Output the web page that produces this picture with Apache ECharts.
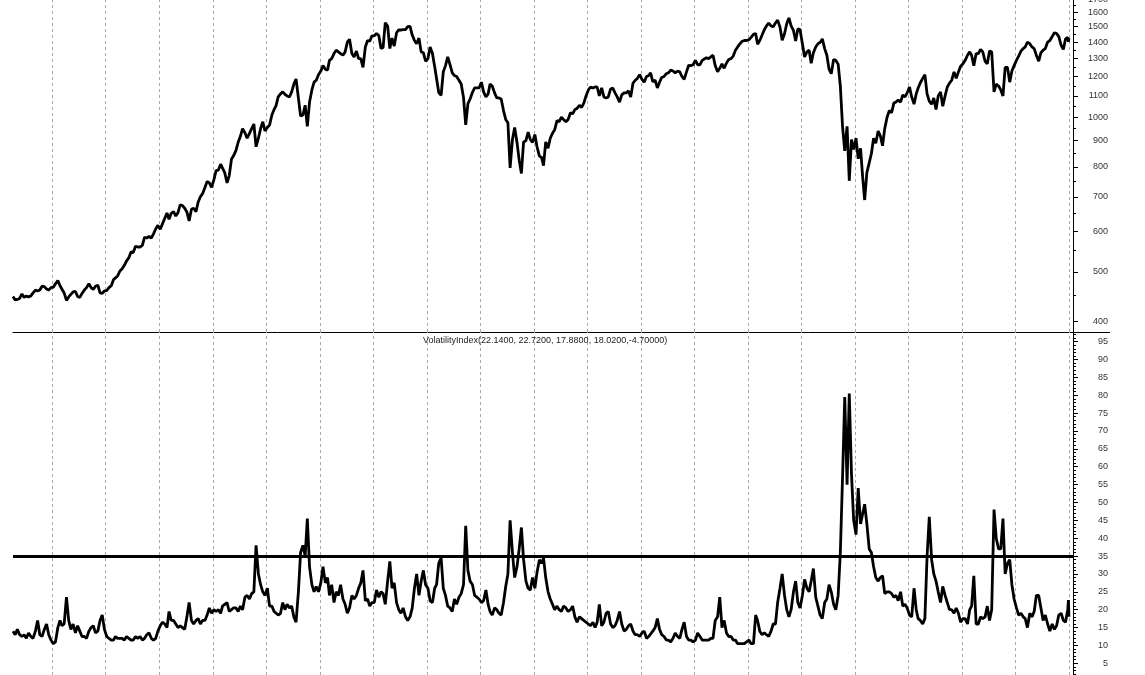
<!DOCTYPE html>
<html><head><meta charset="utf-8">
<script src="https://cdn.jsdelivr.net/npm/echarts@6/dist/echarts.min.js"></script>
<style>html,body{margin:0;padding:0;background:#fff}#c{width:1145px;height:675px}</style>
</head><body><div id="c"></div>
<script>
// Semi-monthly readings (around the 8th and 23rd of each month), Apr 1993 .. Dec 2012
const spx = [
 448,441, 442,444, 453,446, 449,447, 449,455, 461,459, 461,469, 468,463, 461,466,
 467,474, 481,470, 466,455, 440,447, 452,457, 458,448, 446,454, 461,466, 474,466, 462,469, 471,455, 454,459,
 460,466, 470,483, 487,491, 502,507, 515,525, 533,547, 545,561, 559,559, 563,584, 582,586, 582,593, 606,616,
 605,620, 636,651, 633,650, 655,642, 652,675, 673,665, 654,628, 662,665, 655,684, 700,710, 730,750, 745,730,
 755,787, 789,810, 805,780, 745,770, 828,842, 862,894, 918,950, 933,910, 930,950, 970,876, 910,950, 980,940,
 955,965, 1010,1035, 1052,1095, 1110,1120, 1108,1100, 1095,1120, 1160,1187, 1090,1005, 1010,1055, 960,1070, 1130,1170, 1180,1210,
 1230,1260, 1240,1235, 1290,1300, 1330,1350, 1340,1330, 1320,1340, 1400,1418, 1330,1310, 1345,1300, 1300,1250, 1370,1410, 1405,1440,
 1441,1455, 1441,1360, 1366,1527, 1505,1360, 1425,1375, 1460,1479, 1478,1480, 1480,1500, 1502,1445, 1410,1390, 1425,1340, 1335,1285,
 1300,1370, 1330,1255, 1264,1117, 1103,1225, 1260,1310, 1265,1220, 1205,1200, 1180,1160, 1092,966, 1062,1085, 1118,1140, 1140,1140,
 1170,1120, 1095,1110, 1160,1150, 1115,1090, 1090,1085, 1030,990, 975,797, 905,955, 893,825, 777,895, 900,935, 905,893,
 925,875, 840,835, 805,895, 870,910, 930,945, 985,980, 1000,990, 980,990, 1020,1015, 1035,1040, 1055,1045, 1065,1100,
 1130,1145, 1140,1145, 1145,1100, 1140,1095, 1090,1095, 1135,1140, 1115,1095, 1070,1105, 1115,1115, 1125,1095, 1165,1180, 1190,1210,
 1185,1170, 1200,1205, 1220,1172, 1180,1140, 1170,1195, 1200,1215, 1220,1235, 1230,1220, 1230,1225, 1200,1185, 1225,1262, 1260,1265,
 1290,1265, 1265,1290, 1280,1305, 1300,1310, 1320,1260, 1226,1245, 1270,1245, 1275,1295, 1300,1315, 1350,1370, 1390,1405, 1410,1410,
 1415,1430, 1450,1455, 1387,1410, 1445,1480, 1505,1525, 1505,1500, 1525,1545, 1497,1411, 1453,1520, 1560,1505, 1475,1407, 1485,1480,
 1390,1310, 1340,1350, 1273,1335, 1370,1390, 1398,1420, 1360,1320, 1240,1215, 1295,1290, 1268,1150, 960,860, 960,752, 905,865,
 910,830, 870,760, 690,780, 815,850, 910,890, 940,920, 880,950, 1000,1030, 1020,1065, 1070,1080, 1070,1105, 1095,1115,
 1145,1095, 1060,1110, 1140,1167, 1190,1210, 1110,1075, 1060,1090, 1035,1100, 1120,1050, 1100,1145, 1165,1180, 1225,1190, 1225,1257,
 1270,1290, 1320,1340, 1320,1260, 1330,1330, 1355,1340, 1285,1270, 1345,1340, 1120,1160, 1150,1130, 1100,1250, 1250,1170, 1230,1260,
 1290,1315, 1345,1360, 1370,1400, 1390,1370, 1360,1320, 1285,1335, 1350,1360, 1400,1410, 1435,1460, 1455,1435, 1380,1355, 1420,1430,
 1402,1426
];
const vix = [
 14,13, 14.5,13, 12.5,13, 12,13.5, 12.5,12, 14,17, 13,12.5, 14.5,16, 13,11.5,
 10.5,11, 15,17, 15.5,16, 23.5,17, 14.5,16, 13.5,15.5, 14,12.5, 12.5,12, 14,15, 15.5,13.5, 14,17, 18.5,14.5,
 12.5,12, 11.5,11.5, 12.5,12, 12,12, 11.5,12.5, 12,11.5, 11.5,12.5, 12,12.5, 11.5,12, 13,13.5, 12,11.5, 12,14,
 15.5,16.5, 16,15, 19.5,17, 17,16, 15,15.5, 15,14.5, 18,22, 17,16, 17,17.5, 16,17, 17,18.5, 20.5,19,
 20,19.5, 20,19, 21,21.5, 22,19.5, 20,20.5, 20.5,19.5, 21,20, 23.5,24, 23,24.5, 25,38, 30,27, 25,24,
 26,21, 21,19.5, 20,18.5, 19,22, 20,21.5, 20.5,21, 18,16.5, 25,36, 38,35, 45.5,32, 27,25, 26.5,25,
 27.5,32, 27.5,29, 24,27, 22,25, 24,27, 23,21.5, 19,20.5, 24,23, 24,26, 27.5,31, 22.5,23, 21,22,
 22,25.5, 23.5,25, 24.5,21.5, 28,33.5, 26,27.5, 22,20, 19,20.5, 18,17, 18,20.5, 26,30, 24,28, 31,27,
 26,22.5, 22,26, 27,33, 34.5,26, 24,21, 20.5,19.5, 23,21.5, 23.5,24.5, 27,43.5, 31,28, 27,24, 23.5,23,
 22,22.5, 25.5,21.5, 19.5,18.5, 20.5,20, 19,18.5, 22,26.5, 30,45, 36,29, 32,37, 43,34, 28,26, 25.5,29,
 26,30.5, 34,33, 34.5,29, 25,23, 21.5,20, 21,20, 19.5,21, 20.5,19.5, 20,21, 18,16.5, 18,17.5, 17,16.5,
 16,15.5, 16.5,15, 16.5,21.5, 15.5,16.5, 19,19.5, 16,15, 15.5,17, 19.5,16, 14,14.5, 15.5,16, 14,13, 13,12.5,
 13.5,14, 12,12.5, 12.5,14, 15,17.5, 14.5,13, 12.5,11.5, 11.5,11, 12,13.5, 12.5,12, 14.5,16.5, 12.5,11.5, 11.5,11,
 11.5,13.5, 12.5,11.5, 12,11.5, 11.5,12, 12,17, 18,23.5, 15,17, 13.5,12.5, 12.5,11.5, 11.5,10.5, 10.5,10.5, 10.5,11,
 11.5,10.5, 10.5,18.5, 17,14, 13,13.5, 13,12.5, 14,16, 16,22, 26,30, 24,20, 18,20, 25,28, 22,20.5,
 24,28.5, 26,25, 28,31.5, 23.5,21, 18.5,17.5, 22,23, 27,25, 21.5,20, 24,36, 57,79.5, 55,80.5, 58,45,
 41,54, 44,47, 49.5,44, 37,36, 32,29, 28,29, 29.5,24.5, 25,25, 24.5,23.5, 24,22.5, 25,21, 21.5,20.5,
 18.5,18, 26,20, 17.5,17, 16,17.5, 35,46, 34,30, 28,25, 22,26.5, 24,22, 20,20, 19,20.5, 19,16.5,
 17.5,17.5, 16,20, 21,29.5, 16,16, 18,17.5, 18,21, 17,20, 48,40, 37,37, 45.5,30, 33,34, 27,23,
 20.5,18.5, 19,18, 17.5,15, 19,18, 19.5,24, 24,20.5, 17,18.5, 16,14, 16,14.5, 15.5,18.5, 19,17, 16.5,20,
 22.72,18.02
];
const tailDates = ['2012-12-28', '2012-12-31'];
const gridYears = ['1994','1995','1996','1997','1998','1999','2000','2001','2002','2003','2004','2005','2006','2007','2008','2009','2010','2011','2012','2013'];
const spxLabels = [400,500,600,700,800,900,1000,1100,1200,1300,1400,1500,1600];
const spxTopLabel = '1700';
const spxMinorTicks = [450,550,650,750,850,950,1050,1150,1250,1350,1450,1550,1650];
const vixLabels = [5,10,15,20,25,30,35,40,45,50,55,60,65,70,75,80,85,90,95];
const threshold = 35;
const vixTitle = 'VolatilityIndex(22.1400, 22.7200, 17.8800, 18.0200,-4.70000)';

const dates = [];
for (let y = 1993; y <= 2012; y++) {
  for (let m = (y === 1993 ? 4 : 1); m <= 12; m++) {
    const mm = (m < 10 ? '0' : '') + m;
    dates.push(y + '-' + mm + '-08', y + '-' + mm + '-23');
  }
}
tailDates.forEach(d => dates.push(d));
const n = Math.min(dates.length, spx.length, vix.length);
const spxData = [], vixData = [];
for (let i = 0; i < n; i++) { spxData.push([dates[i], spx[i]]); vixData.push([dates[i], vix[i]]); }
const vixMinor = [];
for (let v = 2; v <= 97; v++) if (v % 5) vixMinor.push(v);

const FONT = 'Liberation Sans, Arial, sans-serif';
const gridLines = gridYears.map(y => ({ xAxis: y + '-01-01' }));
const gridLineStyle = { color: '#a8a8a8', type: [3, 3], width: 1 };
const plain = v => String(v);

const chart = echarts.init(document.getElementById('c'));
chart.setOption({
  animation: false,
  backgroundColor: '#fff',
  title: { text: vixTitle, left: 423, top: 336, padding: 0,
    textStyle: { fontSize: 9, fontWeight: 'normal', color: '#222', fontFamily: FONT } },
  graphic: [
    { type: 'text', right: 37, top: -5, silent: true,
      style: { text: spxTopLabel, fontSize: 9, fill: '#333', font: '9px ' + FONT } },
    { type: 'line', silent: true, shape: { x1: 1073, y1: 332.5, x2: 1110, y2: 332.5 },
      style: { stroke: '#000', lineWidth: 1 } }
  ],
  grid: [
    { left: 13, right: 72, top: 0, height: 332 },
    { left: 13, right: 72, top: 332, bottom: 0 }
  ],
  xAxis: [
    { type: 'time', gridIndex: 0, min: '1993-04-08', max: '2013-01-28',
      axisLine: { show: true, lineStyle: { color: '#000', width: 1 } },
      axisTick: { show: false }, axisLabel: { show: false }, splitLine: { show: false } },
    { type: 'time', gridIndex: 1, min: '1993-04-08', max: '2013-01-28',
      axisLine: { show: false }, axisTick: { show: false }, axisLabel: { show: false }, splitLine: { show: false } }
  ],
  yAxis: [
    { type: 'log', gridIndex: 0, position: 'right', min: 381.96, max: 1690.6,
      axisLine: { show: true, lineStyle: { color: '#000' } },
      axisTick: { show: true, length: 5, customValues: spxLabels, lineStyle: { color: '#000' } },
      axisLabel: { show: true, customValues: spxLabels, formatter: plain, align: 'right', margin: 35,
        fontSize: 9, color: '#333', fontFamily: FONT },
      splitLine: { show: false } },
    { type: 'log', gridIndex: 0, position: 'right', min: 381.96, max: 1690.6,
      axisLine: { show: false },
      axisTick: { show: true, length: 3, customValues: spxMinorTicks, lineStyle: { color: '#000' } },
      axisLabel: { show: false }, splitLine: { show: false } },
    { type: 'value', gridIndex: 1, position: 'right', min: 1.73, max: 97.7,
      axisLine: { show: true, lineStyle: { color: '#000' } },
      axisTick: { show: true, length: 5, customValues: vixLabels, lineStyle: { color: '#000' } },
      axisLabel: { show: true, customValues: vixLabels, formatter: plain, align: 'right', margin: 35,
        fontSize: 9, color: '#333', fontFamily: FONT },
      splitLine: { show: false } },
    { type: 'value', gridIndex: 1, position: 'right', min: 1.73, max: 97.7,
      axisLine: { show: false },
      axisTick: { show: true, length: 3, customValues: vixMinor, lineStyle: { color: '#000' } },
      axisLabel: { show: false }, splitLine: { show: false } }
  ],
  series: [
    { type: 'line', xAxisIndex: 0, yAxisIndex: 0, data: spxData, showSymbol: false, z: 10,
      lineStyle: { color: '#000', width: 2.8 }, itemStyle: { color: '#000' },
      markLine: { silent: true, symbol: 'none', z: 1, label: { show: false },
        lineStyle: gridLineStyle, data: gridLines } },
    { type: 'line', xAxisIndex: 1, yAxisIndex: 2, data: vixData, showSymbol: false, z: 10,
      lineStyle: { color: '#000', width: 2.8 }, itemStyle: { color: '#000' },
      markLine: { silent: true, symbol: 'none', z: 1, label: { show: false },
        lineStyle: gridLineStyle, data: gridLines } },
    { type: 'line', xAxisIndex: 1, yAxisIndex: 2, data: [], z: 12,
      markLine: { silent: true, symbol: 'none', z: 12, label: { show: false },
        lineStyle: { color: '#000', width: 3, type: 'solid' }, data: [{ yAxis: threshold }] } }
  ]
});
</script></body></html>
